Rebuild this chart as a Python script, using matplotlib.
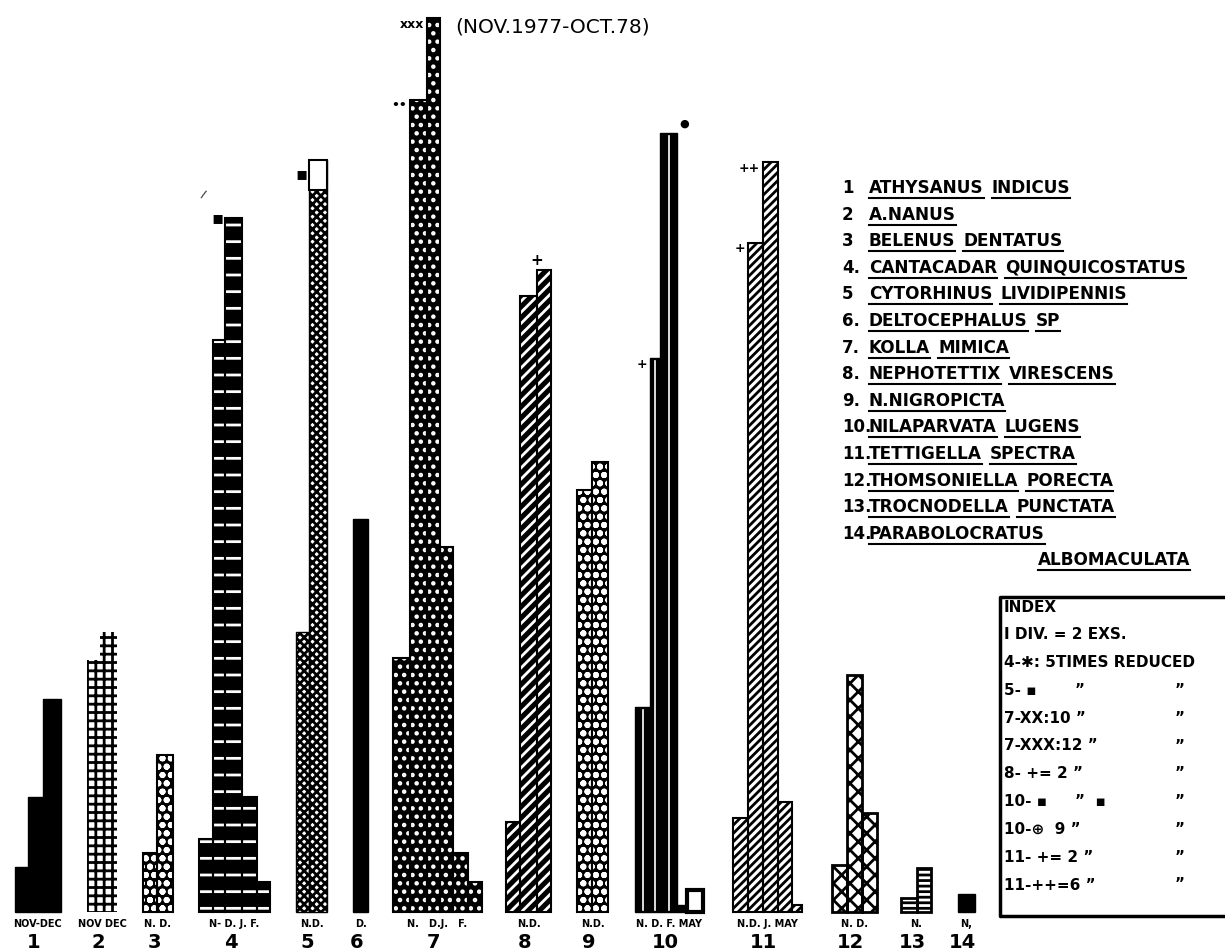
import matplotlib
matplotlib.use("Agg")
import matplotlib.pyplot as plt

# ---- data (heights in chart units above the base line) ----
group_numbers = ["1", "2", "3", "4", "5", "6", "7", "8", "9", "10", "11", "12", "13", "14"]
month_labels = ["NOV-DEC", "NOV DEC", "N. D.", "N- D. J. F.", "N.D.", "D.", "N.   D.J.   F.",
                "N.D.", "N.D.", "N. D. F. MAY", "N.D. J. MAY", "N. D.", "N.", "N,"]

heights_1 = [45, 115, 213]
heights_2 = [252, 280]
heights_3 = [59, 157]
heights_4 = [73, 572, 694, 115, 30]
heights_5 = [280, 752]
heights_6 = [393]
heights_7 = [254, 812, 894, 365, 59, 30]
heights_8 = [90, 616, 642]
heights_9 = [422, 450]
heights_10 = [205, 554, 779, 7, 22]
heights_11 = [94, 669, 750, 110, 7]
heights_12 = [47, 237, 99]
heights_13 = [14, 44]
heights_14 = [18]
cap_5 = 30  # reduced part on top of the tall bar of no. 5

# reduction markers: (group index, column index, text)
markers = [(3, 2, "\u25aa"), (4, 1, "\u25aa"), (6, 2, "xxx"), (6, 1, "\u2022\u2022"),
           (7, 2, "+"), (9, 1, "+"), (9, 2, "\u25cf"), (10, 1, "+"), (10, 2, "++")]

species_no = ["1", "2", "3", "4.", "5", "6.", "7.", "8.", "9.", "10.", "11.", "12.", "13.", "14."]
species_names = ["ATHYSANUS INDICUS", "A.NANUS", "BELENUS DENTATUS",
                 "CANTACADAR QUINQUICOSTATUS", "CYTORHINUS LIVIDIPENNIS",
                 "DELTOCEPHALUS SP", "KOLLA MIMICA", "NEPHOTETTIX VIRESCENS",
                 "N.NIGROPICTA", "NILAPARVATA LUGENS", "TETTIGELLA SPECTRA",
                 "THOMSONIELLA PORECTA", "TROCNODELLA PUNCTATA", "PARABOLOCRATUS"]
name_tail = "ALBOMACULATA"

index_left = ["INDEX", "I DIV. = 2 EXS.", "4-\u2731: 5TIMES REDUCED", "5- \u25aa",
              "7-XX:10 \u201d", "7-XXX:12 \u201d", "8- += 2 \u201d", "10- \u25aa",
              "10-\u2295  9 \u201d", "11- += 2 \u201d", "11-++=6 \u201d"]
index_mid = ["", "", "", "\u201d", "", "", "", "\u201d  \u25aa", "", "", ""]
index_right = ["", "", "", "\u201d", "\u201d", "\u201d", "\u201d", "\u201d", "\u201d", "\u201d", "\u201d"]

all_heights = [heights_1, heights_2, heights_3, heights_4, heights_5, heights_6, heights_7,
               heights_8, heights_9, heights_10, heights_11, heights_12, heights_13, heights_14]

# ---- layout ----
group_left = [15, 87, 143, 199, 296, 353, 393, 506, 577, 635, 733, 832, 901, 958]
col_widths = [[13, 15, 18], [13, 17], [14, 16], [14, 12, 17, 15, 13], [13, 18], [15],
              [17, 17, 13, 13, 15, 14], [14, 17, 14], [15, 16], [15, 10, 17, 10, 16],
              [15, 15, 15, 14, 10], [15, 15, 15], [16, 14], [17]]

# (face, hatch, hatch colour, border width)
styles = [("black", None, "black", 1),
          ("white", "++", "black", 0),
          ("black", "oo", "white", 1.5),
          ("black", "-", "white", 1.5),
          ("white", "xxxx", "black", 1),
          ("black", None, "black", 1),
          ("black", "..", "white", 1.5),
          ("black", "///", "white", 1.5),
          ("black", "oo", "white", 1.5),
          ("black", None, "black", 1),
          ("white", "////", "black", 1.5),
          ("white", "xx", "black", 2),
          ("white", "---", "black", 2),
          ("black", None, "black", 1)]

plt.rcParams["hatch.linewidth"] = 2.0
plt.rcParams["font.family"] = ["DejaVu Sans"]

fig = plt.figure(figsize=(12.25, 9.51), dpi=100)
ax = fig.add_axes([0, 0, 1, 1])
ax.set_xlim(0, 1225)
ax.set_ylim(-39, 912)
ax.axis("off")

col_pos = []
for g, hs in enumerate(all_heights):
    lefts = []
    x = group_left[g]
    for w in col_widths[g]:
        lefts.append(x)
        x += w
    col_pos.append(lefts)
    face, hatch, hc, bw = styles[g]
    ax.bar(lefts, hs, width=col_widths[g], align="edge", color=face,
           edgecolor=hc, hatch=hatch, linewidth=0)
    if bw > 0:
        ax.bar(lefts, hs, width=col_widths[g], align="edge", fill=False,
               edgecolor="black", linewidth=bw)

# thin white line inside the tall black bars of no. 10, last one open
for c, h in enumerate(heights_10):
    xc = col_pos[9][c] + col_widths[9][c] / 2
    if h > 50:
        ax.plot([xc, xc], [2, h - 3], color="white", linewidth=1.2)
ax.bar(col_pos[9][-1], heights_10[-1], width=col_widths[9][-1], align="edge",
       color="white", edgecolor="black", linewidth=3)

# white reduced cap on bar 5
ax.bar(col_pos[4][1], cap_5, bottom=heights_5[1] - cap_5, width=col_widths[4][1],
       align="edge", color="white", edgecolor="black", linewidth=1.5)

# markers
for g, c, txt in markers:
    x0 = col_pos[g][c]
    top = all_heights[g][c]
    if txt == "\u25cf":
        ax.text(x0 + col_widths[g][c] + 2, top + 4, txt, fontsize=8, ha="left", va="bottom")
    elif g == 7:
        ax.text(x0, top + 2, txt, fontsize=11, fontweight="bold", ha="center", va="bottom")
    elif txt == "\u25aa":
        ax.text(x0 - 1, top - 14 if g == 4 else top, txt, fontsize=13,
                ha="right", va="center")
    else:
        ax.text(x0 - 3, top - 6, txt, fontsize=9, fontweight="bold", ha="right", va="center")
ax.text(203, 912 - 195, "/", fontsize=8, ha="center", va="center", rotation=-20)

# labels under the bars
for g in range(len(group_numbers)):
    xs = col_pos[g][0]
    xe = col_pos[g][-1] + col_widths[g][-1]
    cx = (xs + xe) / 2
    ax.text(cx, -12, month_labels[g], fontsize=7, fontweight="bold", ha="center", va="center")
    ax.text(cx - 4, -30, group_numbers[g], fontsize=14, fontweight="bold", ha="center", va="center")

# title
ax.text(553, 885, "(NOV.1977-OCT.78)", fontsize=14.5, ha="center", va="center")

# species list, each word underlined
fig.canvas.draw()
renderer = fig.canvas.get_renderer()
inv = ax.transData.inverted()


def underlined_words(x, y, words, ha="left"):
    texts = []
    for w in words:
        t = ax.text(x, y, w, fontsize=12.2, fontweight="bold", ha="left", va="center")
        bb = t.get_window_extent(renderer)
        (x0, y0), (x1, y1) = inv.transform([[bb.x0, bb.y0], [bb.x1, bb.y1]])
        texts.append((t, x0, x1, y0))
        x = x1 + 8
    if ha == "right":
        shift = texts[-1][2] - texts[0][1]
        for t, x0, x1, y0 in texts:
            t.set_x(t.get_position()[0] - shift)
        texts = [(t, x0 - shift, x1 - shift, y0) for t, x0, x1, y0 in texts]
    for t, x0, x1, y0 in texts:
        ax.plot([x0, x1], [y0 - 1, y0 - 1], color="black", linewidth=1.5)


row_y = 912 - 188
for i, name in enumerate(species_names):
    y = row_y - i * 26.6
    ax.text(842, y, species_no[i], fontsize=12, fontweight="bold", ha="left", va="center")
    underlined_words(869, y, name.split(" "))
underlined_words(1190, row_y - 14 * 26.6, [name_tail], ha="right")

# index box
ax.plot([1230, 1000, 1000, 1225], [912 - 597, 912 - 597, 912 - 916, 912 - 916],
        color="black", linewidth=2.5, clip_on=False)
for i in range(len(index_left)):
    y = 912 - 607 - i * 27.8
    ax.text(1004, y, index_left[i], fontsize=11, fontweight="bold", ha="left", va="center")
    ax.text(1075, y, index_mid[i], fontsize=11, fontweight="bold", ha="left", va="center")
    ax.text(1175, y, index_right[i], fontsize=11, fontweight="bold", ha="left", va="center")

fig.savefig("out.png", dpi=100, facecolor="white")
